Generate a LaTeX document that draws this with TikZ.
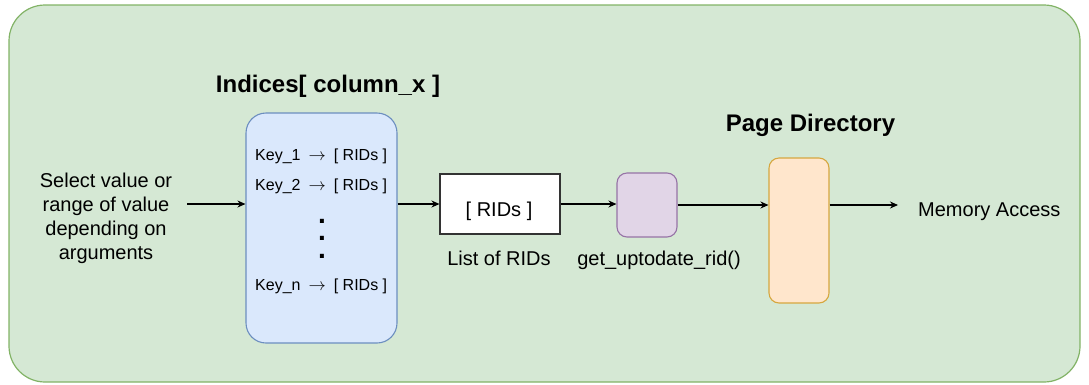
\documentclass[tikz,border=0pt]{standalone}
\usepackage{fontspec}
\setmainfont{Liberation Sans}
\usetikzlibrary{arrows.meta}
\definecolor{grnfill}{HTML}{D5E8D4}\definecolor{grnline}{HTML}{82B366}
\definecolor{blufill}{HTML}{DAE8FC}\definecolor{bluline}{HTML}{6C8EBF}
\definecolor{purfill}{HTML}{E1D5E7}\definecolor{purline}{HTML}{9673A6}
\definecolor{orgfill}{HTML}{FFE6CC}\definecolor{orgline}{HTML}{D6A73F}
\newcommand{\keyarrow}{\hspace{8pt}$\rightarrow$\hspace{8pt}}
\begin{document}
\begin{tikzpicture}[x=1pt,y=-1pt,
  box/.style={draw, line width=1.1pt, inner sep=0pt, minimum width=#1},
  txt/.style={font=\fontsize{20}{24}\selectfont, inner sep=0pt},
  keytxt/.style={font=\fontsize{16}{19}\selectfont, inner sep=0pt, anchor=base west},
  ttl/.style={font=\fontsize{24}{28}\bfseries\selectfont, inner sep=0pt, anchor=base},
  flow/.style={-{Stealth[length=8pt,width=7pt]}, line width=1.1pt, black},
]
\useasboundingbox (0,0) rectangle (1089,384);
% outer container
\draw[fill=grnfill, draw=grnline, line width=1.2pt, rounded corners=36pt]
  (9,5) rectangle (1080,382);

% index structure
\node[box=151pt, minimum height=230pt, fill=blufill, draw=bluline,
      rounded corners=20pt] (idx) at (321.5,228) {};
\node[ttl] (idxttl) at (328,92) {Indices[ column\_x ]};
\node[keytxt] (k1) at (255,160.5) {Key\_1\keyarrow[ RIDs ]};
\node[keytxt] (k2) at (255,190) {Key\_2\keyarrow[ RIDs ]};
\node[keytxt] (kn) at (255,290) {Key\_n\keyarrow[ RIDs ]};
% vertical ellipsis between the keys (base anchor = last line)
\node[font=\fontsize{28}{17.5}\bfseries\selectfont, inner sep=0pt, align=center,
      anchor=base] (dots) at (322,258) {.\\.\\.};

% input description
\node[txt, align=center] (sel) at (106,218) {Select value or\\range of value\\depending on\\arguments};
\coordinate (selout) at (187,204);

% list of RIDs
\node[box=120pt, minimum height=60pt, fill=white, draw=black!80] (rids) at (500,204) {};
\node[txt, anchor=base] (ridstxt) at (499,216) {[ RIDs ]};
\node[txt, anchor=base] (ridslbl) at (499,265) {List of RIDs};

% lookup function
\node[box=60pt, minimum height=64pt, fill=purfill, draw=purline,
      rounded corners=10pt] (upd) at (647,205) {};
\node[txt, anchor=base] (updlbl) at (659,265) {get\_uptodate\_rid()};

% page directory
\node[box=60pt, minimum height=145pt, fill=orgfill, draw=orgline,
      rounded corners=10pt] (pd) at (799,230.5) {};
\node[ttl] (pdttl) at (810.5,131) {Page Directory};

% output
\coordinate (memin) at (898,205);
\node[txt, anchor=base west] (mem) at (918,216) {Memory Access};

% connectors
\draw[flow] (selout) -- (selout -| idx.west);
\draw[flow] (idx.east |- rids.west) -- (rids.west);
\draw[flow] (rids.east) -- (upd.west |- rids.east);
\draw[flow] (upd.east) -- (pd.west |- upd.east);
\draw[flow] (pd.east |- memin) -- (memin);
\end{tikzpicture}
\end{document}
